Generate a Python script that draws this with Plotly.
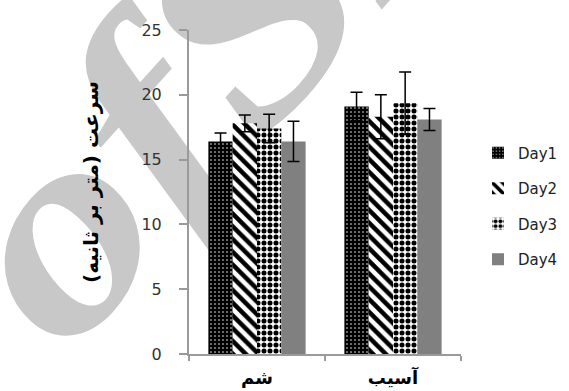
import base64
import plotly.graph_objects as go

categories = ["شم", "آسیب"]
series_names = ["Day1", "Day2", "Day3", "Day4"]
day1 = [16.4, 19.1]
day2 = [17.8, 18.3]
day3 = [17.4, 19.35]
day4 = [16.4, 18.1]
err1 = [0.65, 1.1]
err2 = [0.65, 1.7]
err3 = [1.1, 2.4]
err4 = [1.55, 0.85]
y_ticks = [0, 5, 10, 15, 20, 25]
y_title = "سرعت (متر بر ثانیه)"

values = [day1, day2, day3, day4]
errors = [err1, err2, err3, err4]
patterns = [
    dict(shape=".", fgcolor="white", bgcolor="black", size=4, solidity=0.12, fillmode="replace"),
    dict(shape="\\", fgcolor="black", bgcolor="white", size=9, solidity=0.5, fillmode="replace"),
    dict(shape=".", fgcolor="black", bgcolor="white", size=6, solidity=0.55, fillmode="replace"),
    None,
]
colors = ["black", "white", "white", "#808080"]

fig = go.Figure()
for name, vals, errs, pat, col in zip(series_names, values, errors, patterns, colors):
    marker = dict(color=col, line=dict(width=0))
    if pat:
        marker["pattern"] = pat
    fig.add_trace(go.Bar(
        x=categories, y=vals, name=name, marker=marker,
        legendgroup=name,
        error_y=dict(type="data", array=errs, visible=True, color="black",
                     thickness=1.5, width=6),
    ))

# watermark drawn as an svg image below the plot
svg = (
    '<svg xmlns="http://www.w3.org/2000/svg" width="569" height="391" viewBox="0 0 569 391">'
    '<text x="0" y="0" transform="translate(66,360) rotate(-48) scale(1.2,1)" '
    'font-family="Liberation Serif" font-style="italic" font-weight="bold" font-size="285" '
    'fill="#c8c8c8">ofSID</text></svg>'
)
src = "data:image/svg+xml;base64," + base64.b64encode(svg.encode()).decode()

L, R, T, B = 189, 108, 30, 37
PW, PH = 569 - L - R, 391 - T - B

fig.update_layout(
    width=569, height=391,
    margin=dict(l=L, r=R, t=T, b=B, autoexpand=False),
    paper_bgcolor="white", plot_bgcolor="rgba(0,0,0,0)",
    barmode="group", bargap=0.285, bargroupgap=0,
    font=dict(family="DejaVu Sans", size=15, color="#222"),
    showlegend=True,
    legend=dict(x=(478 - L) / PW, y=(354 - 206) / PH, xanchor="left", yanchor="middle",
                tracegroupgap=13, font=dict(size=15, color="#222"),
                traceorder="grouped", itemwidth=30),
    images=[dict(source=src, xref="paper", yref="paper",
                 x=-L / PW, y=1 + T / PH, sizex=569 / PW, sizey=391 / PH,
                 xanchor="left", yanchor="top", sizing="stretch", layer="below")],
    annotations=[dict(text=y_title, textangle=-90, xref="paper", yref="paper",
                      x=(91 - L) / PW, y=(354 - 182) / PH, showarrow=False,
                      xanchor="center", yanchor="middle",
                      font=dict(family="DejaVu Sans", size=20, color="black", weight="bold"))],
)
fig.update_yaxes(range=[0, 25], tickvals=y_ticks, showgrid=False, zeroline=False,
                 automargin=False,
                 showline=True, linecolor="#9a9a9a", linewidth=2,
                 ticks="outside", ticklen=8, tickcolor="#9a9a9a", tickwidth=1.5,
                 ticklabelstandoff=14, tickfont=dict(size=16, color="#333"))
fig.update_xaxes(showgrid=False, showline=True, linecolor="#9a9a9a", linewidth=2,
                 automargin=False,
                 ticks="outside", tickson="boundaries", ticklen=5, tickcolor="#9a9a9a",
                 tickwidth=1.5, ticklabelstandoff=6,
                 tickfont=dict(size=18, color="black", weight="bold"))

fig.write_html("out.html", config={"displayModeBar": False},
               post_script="document.body.style.margin='0px';")
